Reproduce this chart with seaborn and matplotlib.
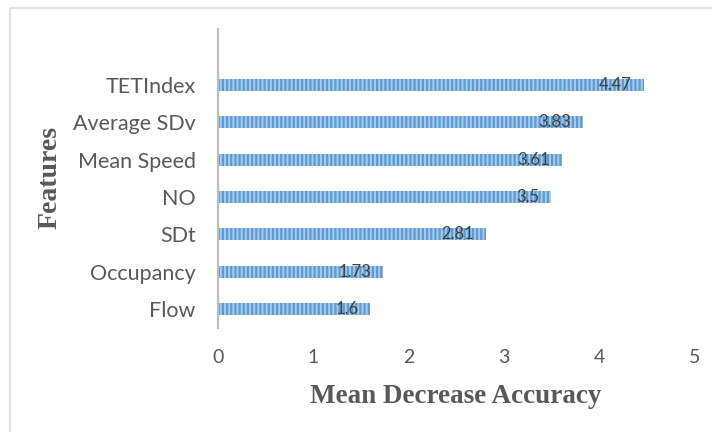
import matplotlib
matplotlib.use("Agg")
import matplotlib.pyplot as plt
import seaborn as sns
import pandas as pd
from matplotlib.patches import Rectangle

features = ["TETIndex", "Average SDv", "Mean Speed", "NO", "SDt", "Occupancy", "Flow"]
importance = [4.47, 3.83, 3.61, 3.5, 2.81, 1.73, 1.6]
x_ticks = [0, 1, 2, 3, 4, 5]

df = pd.DataFrame({"Feature": features, "MDA": importance})

sns.set_theme(style="white")
plt.rcParams["font.family"] = ["Lato", "DejaVu Sans"]
plt.rcParams["hatch.linewidth"] = 1.6

fig = plt.figure(figsize=(7.12, 4.32), dpi=100)
ax = fig.add_axes([0.306, 0.241, 0.669, 0.692])

sns.barplot(data=df, x="MDA", y="Feature", order=features, orient="h",
            color="#9DC3E6", width=0.32, ax=ax, errorbar=None)
for bar in ax.patches:
    bar.set_facecolor("#A9CBEA")
    bar.set_edgecolor("#5B9BD5")
    bar.set_hatch("||||")
    bar.set_linewidth(0)

for bar, val in zip(ax.patches, importance):
    ax.annotate(f"{val:g}", xy=(bar.get_width(), bar.get_y() + bar.get_height() / 2),
                xytext=(-8.5, 0), textcoords="offset points",
                ha="right", va="center", fontsize=12, color="#404040")

ax.set_xlim(0, 5)
ax.set_ylim(6.5, -1.5)
ax.set_xticks(x_ticks)
ax.set_xticklabels([str(t) for t in x_ticks])
ax.tick_params(axis="both", length=0, colors="#595959")
ax.tick_params(axis="y", pad=16, labelsize=15.5)
ax.tick_params(axis="x", pad=15, labelsize=14)

for side in ["top", "right", "bottom"]:
    ax.spines[side].set_visible(False)
ax.spines["left"].set_color("#BFBFBF")
ax.spines["left"].set_linewidth(1.6)

ax.set_xlabel("Mean Decrease Accuracy", fontsize=19.5, fontweight="bold",
              family="Liberation Serif", color="#595959")
ax.set_ylabel("Features", fontsize=20, fontweight="bold",
              family="Liberation Serif", color="#595959")
ax.xaxis.label.set_va("center")
ax.yaxis.label.set_va("center")
ax.xaxis.set_label_coords(0.5, -0.231)
ax.yaxis.set_label_coords(-0.353, 0.503)

# chart area border
fig.patches.append(Rectangle((10 / 712, -0.1), 1.2, 1 - 8 / 432 + 0.1,
                             transform=fig.transFigure, fill=False,
                             edgecolor="#D9D9D9", linewidth=1.2))

fig.savefig("out.png", dpi=100)
